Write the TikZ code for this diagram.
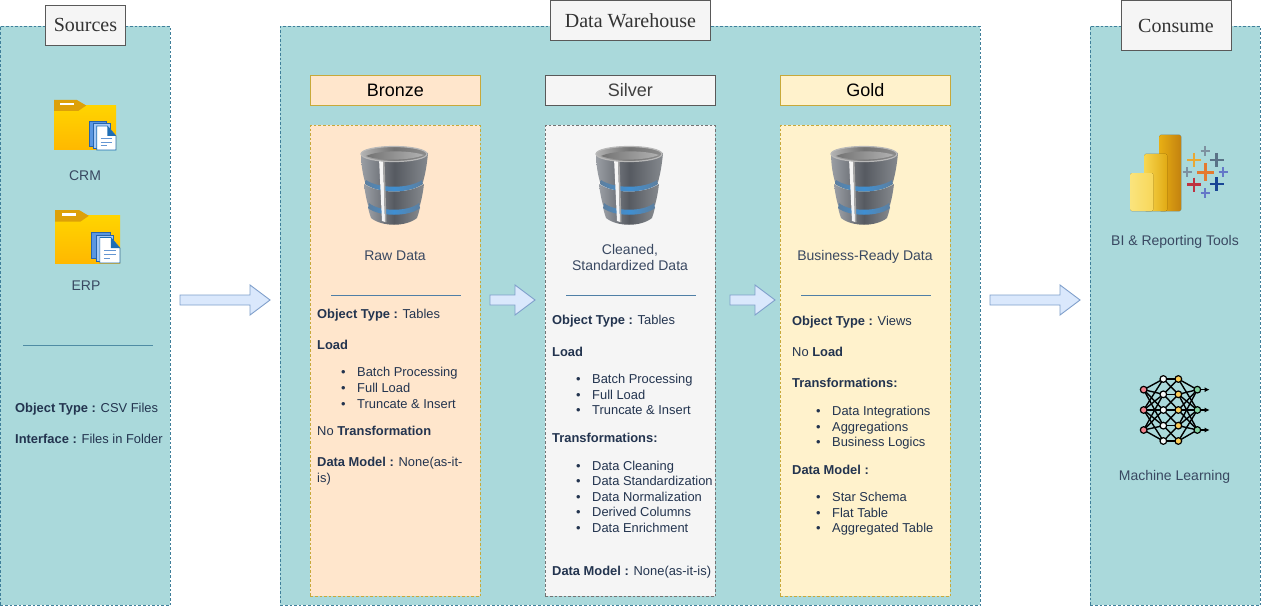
\documentclass[tikz,border=0pt]{standalone}
\usepackage{fontspec}
\setmainfont{Liberation Sans}
\newfontfamily\serifttl{Liberation Serif}
\usetikzlibrary{calc,arrows.meta}
\definecolor{panel}{HTML}{AAD9DB}
\definecolor{panelb}{HTML}{3F7F9A}
\definecolor{ink}{HTML}{23344F}
\definecolor{arrowf}{HTML}{DAE8FC}
\definecolor{arrowd}{HTML}{7F9FCB}
\definecolor{bronzef}{HTML}{FFE6CC}
\definecolor{goldf}{HTML}{FFF2CC}
\definecolor{goldd}{HTML}{C7A93A}
\definecolor{silverf}{HTML}{F5F5F5}
\definecolor{sepc}{HTML}{4F7FA6}
\definecolor{ftab}{RGB}{221,160,8}
\definecolor{ftop}{RGB}{255,212,0}
\definecolor{fbot}{RGB}{255,184,0}
\definecolor{doca}{RGB}{90,150,225}
\definecolor{docb}{RGB}{165,200,245}
\definecolor{docd}{RGB}{40,100,170}
\definecolor{doce}{RGB}{30,110,180}
\definecolor{docl}{RGB}{100,150,210}
\definecolor{pba}{RGB}{232,175,20}
\definecolor{pbb}{RGB}{195,130,15}
\definecolor{pbc}{RGB}{248,215,80}
\definecolor{pbd}{RGB}{225,170,20}
\definecolor{pbe}{RGB}{250,228,125}
\definecolor{pbf}{RGB}{248,215,90}
\definecolor{taor}{RGB}{228,122,48}
\definecolor{tayl}{RGB}{233,168,50}
\definecolor{tasl}{RGB}{90,115,135}
\definecolor{tard}{RGB}{190,50,65}
\definecolor{tabl}{RGB}{25,70,150}
\definecolor{tagr}{RGB}{125,145,160}
\definecolor{tapu}{RGB}{100,120,200}
\definecolor{nnr}{RGB}{240,130,140}
\definecolor{nng}{RGB}{130,210,160}
\definecolor{nny}{RGB}{250,205,90}
\definecolor{dbl}{HTML}{9A9EA4}
\definecolor{dbm}{HTML}{565A61}
\definecolor{dbr}{HTML}{85898E}
\definecolor{dbblue}{HTML}{3F8FD2}
\definecolor{dbside}{HTML}{5E7F9E}
\tikzset{
 panelbox/.style={fill=panel,draw=panelb,line width=.8pt,dash pattern=on 2.6pt off 2pt},
 ttl/.style={draw=black!65,fill=silverf,line width=.9pt,font=\serifttl\fontsize{20}{22}\selectfont,text=black!80,inner sep=0pt},
 head/.style={line width=.9pt,font=\fontsize{18}{20}\selectfont,inner sep=0pt},
 card/.style={line width=.8pt,dash pattern=on 2.6pt off 2pt},
 tx/.style={font=\fontsize{12.9}{15.5}\selectfont,text=ink,anchor=base west,inner sep=0pt},
 lab/.style={font=\fontsize{14}{16}\selectfont,text=ink!90,anchor=base,inner sep=0pt,align=center},
 blockarrow/.style={fill=arrowf,draw=arrowd,line width=.9pt,line join=miter},
 sep/.style={draw=sepc,line width=.9pt},
}
\newcommand{\ptitem}[3]{\node[tx] (#1) at #2 {\makebox[14pt][l]{\kern-2pt •}#3};}
\newcommand{\dbicon}[1]{%
\begin{scope}[shift={(#1,0)}]
 \path[left color=dbl,right color=dbr,middle color=dbm]
  (-33,153) .. controls (-33,165) and (-31,175) .. (-29,182)
  .. controls (-15,191) and (15,191) .. (29,182)
  .. controls (31,175) and (33,165) .. (34,153) -- cycle;
 \path[left color=dbl,right color=dbr,middle color=dbm]
  (-30,184) .. controls (-15,194) and (15,194) .. (30,184)
  .. controls (29,192) and (28,198) .. (26,205)
  .. controls (15,214) and (-15,214) .. (-26,205)
  .. controls (-28,198) and (-29,192) .. (-30,184) -- cycle;
 \path[left color=dbl,right color=dbr,middle color=dbm]
  (-26,207) .. controls (-15,216) and (15,216) .. (26,207)
  .. controls (25,212) and (24,215) .. (23,218)
  .. controls (12,227) and (-12,227) .. (-23,218)
  .. controls (-24,215) and (-25,212) .. (-26,207) -- cycle;
 \path[left color=dbside,right color=dbside,middle color=dbblue]
  (-28,180) .. controls (-15,189) and (15,189) .. (28,180)
  -- (29,184) .. controls (15,194) and (-15,194) .. (-29,184) -- cycle;
 \path[left color=dbside,right color=dbside,middle color=dbblue]
  (-25,203) .. controls (-15,212) and (15,212) .. (25,203)
  -- (26,208) .. controls (15,217) and (-15,217) .. (-26,208) -- cycle;
 \path[fill=white!92!gray] (-15,158) -- (-11,159) -- (-9,222) -- (-12,221) -- cycle;
 \path[fill=black!35] (-11,159) -- (-9.5,159) -- (-7.5,222) -- (-9,222) -- cycle;
 \path[left color=black!30,right color=black!45,middle color=black!55,draw=black!28,line width=1.2pt]
   (0,154) ellipse [x radius=33,y radius=7.5];
 \path[left color=black!55,right color=black!30] (-28,156) .. controls (-15,150) and (15,150) .. (30,155)
    .. controls (15,161) and (-15,161) .. (-28,156) -- cycle;
\end{scope}}
\newcommand{\foldericon}[4]{%
\begin{scope}[shift={(#1,#2)},x=#3pt,y=-#4pt]
 \path[top color=ftop,bottom color=fbot]
   (0,.11) -- (1,.11) -- (1,1) -- (0,1) -- cycle;
 \path[fill=ftab] (0,0) -- (.37,0) -- (.52,.11) -- (.39,.22) -- (0,.22) -- cycle;
 \path[fill=white] (.1,.06) rectangle (.32,.11);
 \path[fill=doca,draw=docd,line width=.6pt] (.565,.42) rectangle (.85,.92);
 \path[fill=docb,draw=docd,line width=.6pt] (.63,.47) rectangle (.9,.96);
 \path[fill=white,draw=doce,line width=.7pt] (.69,.52) -- (.86,.52) -- (1,.72) -- (1,1) -- (.69,1) -- cycle;
 \path[fill=doce] (.86,.52) -- (1,.72) -- (.86,.72) -- cycle;
 \foreach \yy/\xx in {.77/.94,.84/.94,.91/.85} \draw[docl,line width=.9pt] (.75,\yy) -- (\xx,\yy);
\end{scope}}
\begin{document}
\begin{tikzpicture}[x=1pt,y=-1pt]
\useasboundingbox (0,0) rectangle (1261,607);
\fill[white] (0,0) rectangle (1261,607);
% panels
\node[panelbox,minimum width=170pt,minimum height=579pt,inner sep=0pt,anchor=north west] (srcpanel) at (0,26) {};
\node[panelbox,minimum width=700pt,minimum height=579pt,inner sep=0pt,anchor=north west] (dwpanel) at (280,26) {};
\node[panelbox,minimum width=170pt,minimum height=579pt,inner sep=0pt,anchor=north west] (conpanel) at (1090,26) {};
\node[ttl,minimum width=80pt,minimum height=40pt,anchor=north west] (srcttl) at (45,5) {Sources};
\node[ttl,minimum width=160pt,minimum height=40pt,anchor=north west] (dwttl) at (550,0.5) {Data Warehouse};
\node[ttl,minimum width=110pt,minimum height=50pt,anchor=north west] (conttl) at (1120.5,0.5) {Consume};
% headers
\node[head,draw=goldd,fill=bronzef,minimum width=170pt,minimum height=30pt,anchor=north west] (bh) at (310,75) {Bronze};
\node[head,draw=black!65,fill=silverf,text=black!75,minimum width=170pt,minimum height=30pt,anchor=north west] (sh) at (545,75) {Silver};
\node[head,draw=goldd,fill=goldf,minimum width=170pt,minimum height=30pt,anchor=north west] (gh) at (780,75) {Gold};
% cards
\node[card,draw=goldd,fill=bronzef,minimum width=170pt,minimum height=471pt,inner sep=0pt,anchor=north west] (bc) at (310,125) {};
\node[card,draw=black!55,fill=silverf,minimum width=170pt,minimum height=471pt,inner sep=0pt,anchor=north west] (sc) at (545,125) {};
\node[card,draw=goldd,fill=goldf,minimum width=170pt,minimum height=471pt,inner sep=0pt,anchor=north west] (gc) at (780,125) {};
% block arrows
\foreach \a/\b/\c in {180/250/270,490/515/535,730/755/775,990/1060/1080}
 \draw[blockarrow] (\a,295) -- (\b,295) -- (\b,285) -- (\c,300) -- (\b,315) -- (\b,305) -- (\a,305) -- cycle;
% icons
\foldericon{54}{100}{62}{50}
\foldericon{55}{210}{65}{53}
\dbicon{394}\dbicon{629}\dbicon{864}
% source text
\node[lab] (crm) at (85,180) {CRM};
\node[lab] (erp) at (86,290) {ERP};
\draw[sep,draw=panelb!85!panel] (23,345) -- (153,345);
\node[tx] (s1) at (15,412) {\textbf{Object Type :} CSV Files};
\node[tx] (s2) at (15,443) {\textbf{Interface :} Files in Folder};
% bronze
\node[lab] (b0) at (395,260) {Raw Data};
\draw[sep] (331,295) -- (461,295);
\node[tx] (b1) at (317,318) {\textbf{Object Type :} Tables};
\node[tx] (b2) at (317,349) {\textbf{Load}};
\ptitem{b3}{(343,376)}{Batch Processing}
\ptitem{b4}{(343,392)}{Full Load}
\ptitem{b5}{(343,408)}{Truncate \& Insert}
\node[tx] (b6) at (317,435) {No \textbf{Transformation}};
\node[tx] (b7) at (317,466) {\textbf{Data Model :} None(as-it-};
\node[tx] (b8) at (317,482) {is)};
% silver
\node[lab,anchor=center] (s0) at (630,257) {Cleaned,\\Standardized Data};
\draw[sep] (566,295) -- (696,295);
\node[tx] (c1) at (552,324) {\textbf{Object Type :} Tables};
\node[tx] (c2) at (552,356) {\textbf{Load}};
\ptitem{c3}{(578,383)}{Batch Processing}
\ptitem{c4}{(578,399)}{Full Load}
\ptitem{c5}{(578,414)}{Truncate \& Insert}
\node[tx] (c6) at (552,442) {\textbf{Transformations:}};
\ptitem{c7}{(578,470)}{Data Cleaning}
\ptitem{c8}{(578,485)}{Data Standardization}
\ptitem{c9}{(578,501)}{Data Normalization}
\ptitem{c10}{(578,516)}{Derived Columns}
\ptitem{c11}{(578,532)}{Data Enrichment}
\node[tx] (c12) at (552,575) {\textbf{Data Model :} None(as-it-is)};
% gold
\node[lab] (g0) at (865,260) {Business-Ready Data};
\draw[sep] (801,295) -- (931,295);
\node[tx] (g1) at (792,325) {\textbf{Object Type :} Views};
\node[tx] (g2) at (792,356) {No \textbf{Load}};
\node[tx] (g3) at (792,387) {\textbf{Transformations:}};
\ptitem{g4}{(818,415)}{Data Integrations}
\ptitem{g5}{(818,431)}{Aggregations}
\ptitem{g6}{(818,446)}{Business Logics}
\node[tx] (g7) at (792,474) {\textbf{Data Model :}};
\ptitem{g8}{(818,501)}{Star Schema}
\ptitem{g9}{(818,517)}{Flat Table}
\ptitem{g10}{(818,532)}{Aggregated Table}
% consume labels
\node[lab] (bi) at (1175,245) {BI \& Reporting Tools};
\node[lab] (ml) at (1174.5,480) {Machine Learning};
% Power BI bars
\fill[left color=pba,right color=pbb,rounded corners=1.5pt] (1159,135) rectangle (1181,211);
\fill[left color=pbc,right color=pbd,rounded corners=1.5pt] (1144,154) rectangle (1167,211);
\fill[left color=pbe,right color=pbf,rounded corners=1.5pt] (1130,173) rectangle (1153,211);
% Tableau crosses
\foreach \px/\py/\r/\w/\cc in {
 1205.3/172/8.5/3/taor,
 1194/160/7/2.6/tayl,
 1216.7/160/7/2.6/tasl,
 1194/184.5/7/2.6/tard,
 1216.7/184/7/2.6/tabl,
 1205.3/151/4.7/2/tagr,
 1187.3/172/4.7/2/tagr,
 1223.3/172/4.7/2/tapu,
 1205.3/193/4.7/2/tapu}
 \draw[draw=\cc,line width=\w pt] (\px-\r,\py) -- (\px+\r,\py) (\px,\py-\r) -- (\px,\py+\r);
% neural network icon
\begin{scope}[shift={(1110,360)},x=.3333pt,y=-.3333pt]
 \foreach \a in {89,150,210}{
  \foreach \b in {57,103,150,197,243}{
   \pgfmathparse{abs(\a-\b)<=110?1:0}
   \ifnum\pgfmathresult=1 \draw[black,line width=1.4pt] (101,\a) -- (160,\b); \draw[black,line width=1.4pt] (205,\b) -- (262,\a);\fi
  }
  \draw[-{Latex[length=5pt,width=5pt]},black,line width=1.4pt] (262,\a) -- (299,\a);
 }
 \foreach \a in {57,103,150,197,243}{
  \foreach \b in {57,103,150,197,243}{
   \pgfmathparse{abs(\a-\b)<=50?1:0}
   \ifnum\pgfmathresult=1 \draw[black,line width=1.4pt] (160,\a) -- (205,\b);\fi
  }
 }
 \foreach \a in {89,150,210}{
  \draw[black,fill=nnr,line width=1.2pt] (101,\a) circle [radius=10];
  \draw[black,fill=nng,line width=1.2pt] (262,\a) circle [radius=10];
 }
 \foreach \a in {57,103,150,197,243}{
  \draw[black,fill=white!90!panel,line width=1.2pt] (160,\a) circle [radius=10];
  \draw[black,fill=nny,line width=1.2pt] (205,\a) circle [radius=10];
 }
\end{scope}
\end{tikzpicture}
\end{document}
